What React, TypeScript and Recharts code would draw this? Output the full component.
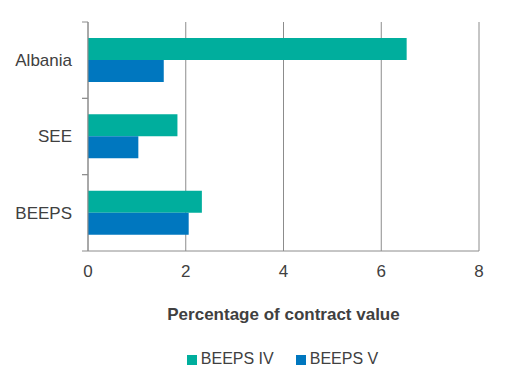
import { BarChart, Bar, XAxis, YAxis, CartesianGrid, Legend, Label } from "recharts";

const categories = ["Albania", "SEE", "BEEPS"];
const beepsIV = [6.52, 1.83, 2.33];
const beepsV = [1.55, 1.03, 2.06];
const xTicks = [0, 2, 4, 6, 8];

const data = categories.map((name, i) => ({
  name,
  iv: beepsIV[i],
  v: beepsV[i],
}));

const FONT = "'Liberation Sans', Arial, sans-serif";
const TEXT = "#404040";
const GRID = "#8c8c8c";
const PLOT_TOP = 14;
const PLOT_H = 229;
const BAND = PLOT_H / categories.length;

function CategoryTick(props: any) {
  const { x, y, payload } = props;
  const axisX = x + 16;
  return (
    <g>
      <text x={x} y={y} dy="0.35em" textAnchor="end" fill={TEXT} fontSize={17} fontFamily={FONT}>
        {payload.value}
      </text>
      <line x1={axisX - 6} x2={axisX} y1={y - BAND / 2} y2={y - BAND / 2} stroke={GRID} />
      <line x1={axisX - 6} x2={axisX} y1={y + BAND / 2} y2={y + BAND / 2} stroke={GRID} />
    </g>
  );
}

export default function App() {
  return (
    <BarChart
      width={500}
      height={376}
      data={data}
      layout="vertical"
      margin={{ top: PLOT_TOP, right: 29, bottom: 13, left: 0 }}
      barCategoryGap="21%"
      barGap={0}
    >
      <CartesianGrid horizontal={false} stroke={GRID} />
      <XAxis
        type="number"
        domain={[0, 8]}
        ticks={xTicks}
        axisLine={{ stroke: GRID }}
        tickLine={false}
        tickSize={0}
        tickMargin={14}
        height={96}
        tick={{ fill: TEXT, fontSize: 17, fontFamily: FONT }}
      >
        <Label
          value="Percentage of contract value"
          position="insideTop"
          offset={57}
          fill={TEXT}
          fontSize={17}
          fontWeight="bold"
          fontFamily={FONT}
        />
      </XAxis>
      <YAxis
        type="category"
        dataKey="name"
        width={80}
        axisLine={{ stroke: GRID }}
        tickLine={false}
        tickSize={0}
        tickMargin={16}
        tick={<CategoryTick />}
      />
      <Legend
        verticalAlign="bottom"
        iconType="square"
        iconSize={10}
        wrapperStyle={{ fontFamily: FONT, fontSize: 16, paddingLeft: 50, lineHeight: "24px" }}
        formatter={(value: string) => <span style={{ color: TEXT, marginRight: 12 }}>{value}</span>}
      />
      <Bar dataKey="iv" name="BEEPS IV" fill="#00AE9D" isAnimationActive={false} />
      <Bar dataKey="v" name="BEEPS V" fill="#0077BF" isAnimationActive={false} />
    </BarChart>
  );
}
